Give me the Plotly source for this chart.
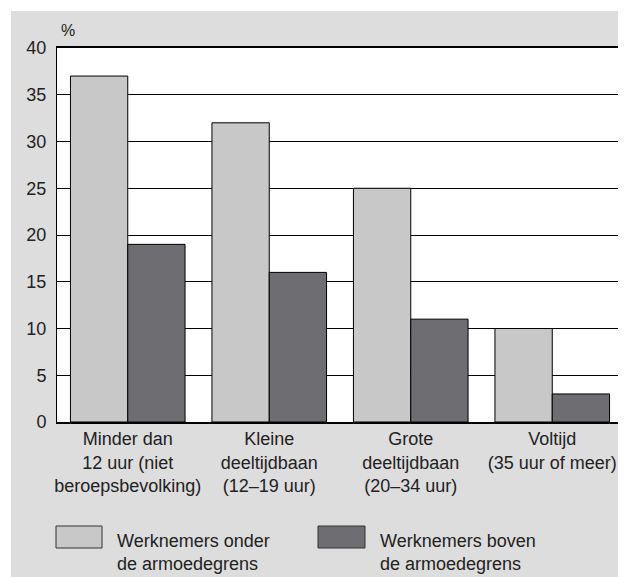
import plotly.graph_objects as go

categories = ["Minder dan<br>12 uur (niet<br>beroepsbevolking)",
              "Kleine<br>deeltijdbaan<br>(12–19 uur)",
              "Grote<br>deeltijdbaan<br>(20–34 uur)",
              "Voltijd<br>(35 uur of meer)"]
series_names = ["Werknemers onder<br>de armoedegrens", "Werknemers boven<br>de armoedegrens"]
onder = [37, 32, 25, 10]
boven = [19, 16, 11, 3]
y_ticks = [0, 5, 10, 15, 20, 25, 30, 35, 40]

light = "#c8c8c8"
dark = "#6e6e72"
panel = "#dddddd"
font = "Liberation Sans, Arial, sans-serif"

# page body has an 8px margin; work in page coordinates and convert
OFF = 8
W, H = 626 - OFF, 577 - OFF
L, R, T = 57 - OFF, 3, 48 - OFF
B = H - (422 - OFF)
pw, ph = W - L - R, H - T - B

def px(x):
    return (x - OFF - L) / pw

def py(y):
    return (H - B - (y - OFF)) / ph

fig = go.Figure()
fig.add_bar(x=categories, y=onder, name=series_names[0], marker=dict(color=light, line=dict(color="black", width=1)))
fig.add_bar(x=categories, y=boven, name=series_names[1], marker=dict(color=dark, line=dict(color="black", width=1)))

shapes = [
    dict(type="rect", xref="paper", yref="paper", x0=px(11), x1=px(624), y0=py(11), y1=py(577),
         fillcolor=panel, line=dict(width=0), layer="below"),
    dict(type="rect", xref="paper", yref="paper", x0=0, x1=1, y0=0, y1=1,
         fillcolor="white", line=dict(width=0), layer="below"),
    dict(type="rect", xref="paper", yref="paper", x0=px(56), x1=px(102), y0=py(526), y1=py(548),
         fillcolor=light, line=dict(color="#333333", width=1)),
    dict(type="rect", xref="paper", yref="paper", x0=px(318), x1=px(365), y0=py(526), y1=py(548),
         fillcolor=dark, line=dict(color="#333333", width=1)),
]
annotations = [
    dict(text="%", xref="paper", yref="paper", x=px(59), y=py(30), xanchor="left", yanchor="middle",
         showarrow=False, font=dict(size=16, color="#222")),
    dict(text=series_names[0], xref="paper", yref="paper", x=px(115), y=py(552), xanchor="left", yanchor="middle",
         showarrow=False, align="left", font=dict(size=18, color="#222")),
    dict(text=series_names[1], xref="paper", yref="paper", x=px(378), y=py(552), xanchor="left", yanchor="middle",
         showarrow=False, align="left", font=dict(size=18, color="#222")),
]

fig.update_layout(
    width=W, height=H,
    margin=dict(l=L, r=R, t=T, b=B, pad=0),
    paper_bgcolor="white", plot_bgcolor="white",
    barmode="group", bargap=0.19, bargroupgap=0,
    showlegend=False,
    font=dict(family=font, size=18, color="#222"),
    shapes=shapes, annotations=annotations,
    xaxis=dict(showline=True, linecolor="black", linewidth=1.5, mirror=True, ticks="",
               tickfont=dict(size=18), showgrid=False),
    yaxis=dict(range=[0, 40], tickvals=y_ticks, showline=True, linecolor="black", linewidth=1, mirror=True,
               gridcolor="black", gridwidth=1, ticks="", ticklabelstandoff=6, zeroline=False,
               tickfont=dict(size=18)),
)
fig.write_html("out.html")
